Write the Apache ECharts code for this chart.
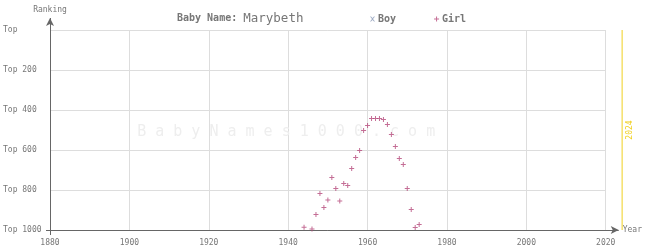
<!DOCTYPE html>
<html><head><meta charset="utf-8">
<script src="https://cdn.jsdelivr.net/npm/echarts@6/dist/echarts.min.js"></script>
<style>html,body{margin:0;padding:0;background:#fff}#c{width:645px;height:250px}</style>
</head><body><div id="c"></div>
<script>
const babyName = 'Marybeth';
const girlYears = [1944,1946,1947,1948,1949,1950,1951,1952,1953,1954,1955,1956,1957,1958,1959,1960,1961,1962,1963,1964,1965,1966,1967,1968,1969,1970,1971,1972,1973];
const girlRanks = [986,995,922,817,887,850,737,792,855,767,777,692,637,602,502,477,442,442,442,447,472,522,582,642,672,792,897,987,972];
const boyYears = [];
const boyRanks = [];
const yTicks = [0,200,400,600,800,1000];
const xTicks = [1880,1900,1920,1940,1960,1980,2000,2020];
const currentYear = 2024;

const FONT = 'DejaVu Sans Mono';
const plus = 'path://M2,0H3V2H5V3H3V5H2V3H0V2H2Z';
const cross = 'path://M0,0L1,0L2.5,1.5L4,0L5,0L3,2.5L5,5L4,5L2.5,3.5L1,5L0,5L2,2.5Z';

const chart = echarts.init(document.getElementById('c'), null, {renderer:'canvas'});
const option = {
  animation: false,
  backgroundColor: '#fff',
  title: {
    text: '{a|Baby Name: }{b|' + babyName + '}',
    left: 172, top: 7,
    textStyle: { rich: {
      a: {fontFamily: FONT, fontSize: 10, fontWeight: 'bold', color: '#777'},
      b: {fontFamily: FONT, fontSize: 12.5, fontWeight: 'normal', color: '#777'}
    }}
  },
  legend: {
    left: 365, top: 9, itemGap: 38, itemWidth: 5, itemHeight: 5,
    textStyle: {fontFamily: FONT, fontSize: 10, fontWeight: 'bold', color: '#777', padding: [0,0,0,-2]},
    data: [
      {name: 'Boy', icon: cross, itemStyle: {color: '#8a9ab8'}},
      {name: 'Girl', icon: plus, itemStyle: {color: '#b5487a'}}
    ]
  },
  grid: {left: 47, right: 38, top: 30, bottom: 20, containLabel: false},
  xAxis: {
    type: 'value', min: xTicks[0], max: xTicks[xTicks.length-1], interval: 20,
    position: 'bottom',
    name: 'Year', nameLocation: 'end', nameGap: 17,
    nameTextStyle: {fontFamily: FONT, fontSize: 8, color: '#777'},
    axisLine: {show: true, onZero: false, lineStyle: {color: '#666', width: 1}, symbol: ['none','arrow'], symbolSize: [6,8], symbolOffset: [0, 13]},
    axisTick: {show: false},
    axisLabel: {fontFamily: FONT, fontSize: 8, color: '#777', margin: 9, formatter: v => String(v)},
    splitLine: {show: true, lineStyle: {color: '#ddd', width: 1}}
  },
  yAxis: {
    type: 'value', inverse: true, min: 0, max: 1000, interval: 200,
    name: 'Ranking', nameLocation: 'start', nameGap: 16,
    nameTextStyle: {fontFamily: FONT, fontSize: 8, color: '#777'},
    axisLine: {show: true, onZero: false, lineStyle: {color: '#666', width: 1}, symbol: ['none','arrow'], symbolSize: [6,8], symbolOffset: [0, 12]},
    axisTick: {show: false},
    axisLabel: {fontFamily: FONT, fontSize: 8, color: '#777', margin: 47, align: 'left',
      formatter: v => v === 0 ? 'Top' : 'Top ' + v},
    splitLine: {show: true, lineStyle: {color: '#ddd', width: 1}}
  },
  series: [
    {name: 'Boy', type: 'scatter', symbol: cross, symbolSize: 4, itemStyle: {color: '#8a9ab8'},
     data: boyYears.map((y,i)=>[y, boyRanks[i]])},
    {name: 'Girl', type: 'scatter', symbol: plus, symbolSize: 5, itemStyle: {color: '#b5487a'},
     data: girlYears.map((y,i)=>[y, girlRanks[i]])}
  ]
};
chart.setOption(option);

const p0 = chart.convertToPixel({gridIndex:0}, [xTicks[xTicks.length-1], 1000]);
const pc = chart.convertToPixel({gridIndex:0}, [currentYear, 0]);
const pcb = chart.convertToPixel({gridIndex:0}, [currentYear, 1000]);
const pTop = chart.convertToPixel({gridIndex:0}, [xTicks[0], 0]);
const pOrig = chart.convertToPixel({gridIndex:0}, [xTicks[0], 1000]);
const pMid = chart.convertToPixel({gridIndex:0}, [1939.5, 510]);
chart.setOption({
  graphic: [
    {type:'line', shape:{x1:p0[0], y1:p0[1]+0.5, x2:p0[0]+13, y2:p0[1]+0.5}, style:{stroke:'#666', lineWidth:1}, z:10},
    {type:'line', shape:{x1:pTop[0]+0.5, y1:pTop[1], x2:pTop[0]+0.5, y2:pTop[1]-12}, style:{stroke:'#666', lineWidth:1}, z:10},
    {type:'line', shape:{x1:pOrig[0]-4, y1:pOrig[1]+0.5, x2:pOrig[0], y2:pOrig[1]+0.5}, style:{stroke:'#666', lineWidth:1}, z:10},
    {type:'line', shape:{x1:pOrig[0]+0.5, y1:pOrig[1], x2:pOrig[0]+0.5, y2:pOrig[1]+5}, style:{stroke:'#666', lineWidth:1}, z:10},
    {type:'line', shape:{x1:pc[0]+0.5, y1:pc[1], x2:pcb[0]+0.5, y2:pcb[1]}, style:{stroke:'#f0d020', lineWidth:1}, z:10},
    {type:'text', x: pc[0]+8, y: (pc[1]+pcb[1])/2, rotation: Math.PI/2,
     style:{text: String(currentYear), fontFamily: FONT, fontSize: 8, fill:'#f0d020', align:'center', verticalAlign:'middle'}, z:10},
    {type:'text', x: pMid[0], y: pMid[1], z: 0,
     style:{text: 'B a b y N a m e s 1 0 0 0 . c o m', fontFamily: FONT, fontSize: 15, fill:'#eeeeee', align:'center', verticalAlign:'middle'}}
  ]
});
</script></body></html>
